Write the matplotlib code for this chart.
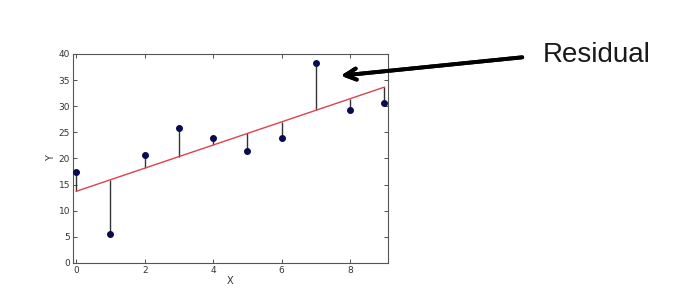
import numpy as np
import matplotlib.pyplot as plt

# observed points
x = np.array([0, 1, 2, 3, 4, 5, 6, 7, 8, 9])
y = np.array([17.4, 5.5, 20.6, 25.9, 23.9, 21.4, 23.9, 38.2, 29.3, 30.7])

xticks = [0, 2, 4, 6, 8]
yticks = [0, 5, 10, 15, 20, 25, 30, 35, 40]

# least squares fit line
slope, intercept = np.polyfit(x, y, 1)
yfit = slope * x + intercept

fig = plt.figure(figsize=(7, 3.05), dpi=100)
ax = fig.add_axes([0.104, 0.138, 0.450, 0.685])

ax.vlines(x, y, yfit, color='#333333', lw=1)
ax.plot(x, yfit, color='#e04050', lw=1)
ax.plot(x, y, 'o', color='#0a0a50', ms=4, zorder=3)

ax.set_xlim(-0.1, 9.1)
ax.set_ylim(0, 40)
ax.set_xticks(xticks)
ax.set_yticks(yticks)
ax.tick_params(direction='in', top=True, right=True, labelsize=6.5,
               length=3, width=0.6, colors='#333333', pad=2)
for s in ax.spines.values():
    s.set_color('#555555')
    s.set_linewidth(0.8)
ax.set_xlabel('X', fontsize=7, color='#333333', labelpad=1)
ax.set_ylabel('Y', fontsize=7, color='#333333', labelpad=2)

fig.text(0.776, 0.82, 'Residual', fontsize=20, family='Liberation Sans',
         color='#1a1a1a', va='center', ha='left')
fig.add_artist(plt.annotate('', xy=(0.483, 0.751), xytext=(0.75, 0.813),
                            xycoords='figure fraction',
                            arrowprops=dict(arrowstyle='->', lw=2.8,
                                            color='black',
                                            mutation_scale=20)))

fig.savefig('out.png', dpi=100)
